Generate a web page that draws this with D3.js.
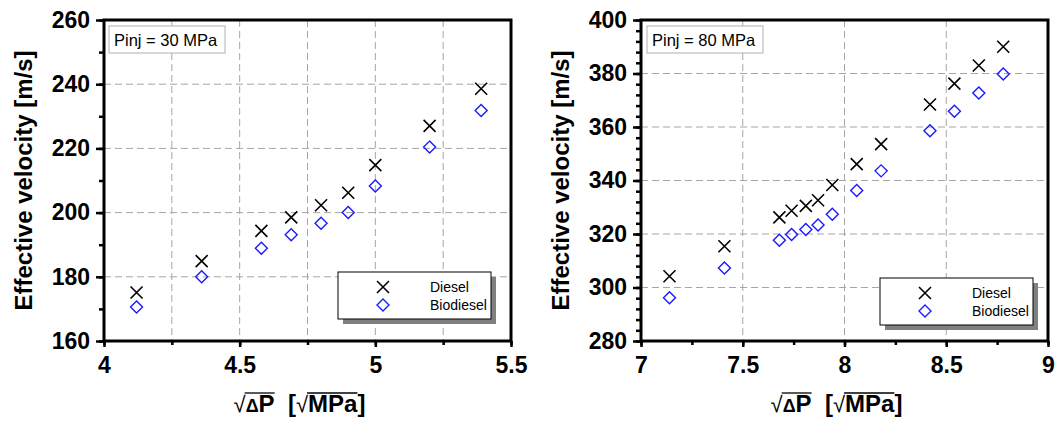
<!DOCTYPE html>
<html>
<head>
<meta charset="UTF-8">
<script src="https://d3js.org/d3.v7.min.js"></script>
<style>
  body { margin: 0; background: #fff; }
  text { font-family: "Liberation Sans", Arial, sans-serif; }
</style>
</head>
<body>
<svg id="chart" width="1061" height="421"></svg>
<script>
// data
const xLow = [4.12, 4.36, 4.58, 4.69, 4.80, 4.90, 5.00, 5.20, 5.39];
const dieselLow = [175.1, 184.9, 194.3, 198.5, 202.3, 206.2, 214.8, 227.0, 238.6];
const biodieselLow = [170.6, 180.0, 188.9, 193.1, 196.7, 200.0, 208.3, 220.4, 231.8];

const xHigh = [7.14, 7.41, 7.68, 7.74, 7.81, 7.87, 7.94, 8.06, 8.18, 8.42, 8.54, 8.66, 8.78];
const dieselHigh = [304.2, 315.4, 326.2, 328.7, 330.5, 332.6, 338.3, 346.1, 353.6, 368.4, 376.2, 383.0, 390.0];
const biodieselHigh = [296.2, 307.3, 317.7, 319.8, 321.7, 323.4, 327.4, 336.3, 343.6, 358.6, 365.9, 372.7, 379.8];

const xTicksLow = [4, 4.5, 5, 5.5];
const yTicksLow = [160, 180, 200, 220, 240, 260];
const xTicksHigh = [7, 7.5, 8, 8.5, 9];
const yTicksHigh = [280, 300, 320, 340, 360, 380, 400];

const seriesNames = ["Diesel", "Biodiesel"];
const labelLow = "Pinj = 30 MPa";
const labelHigh = "Pinj = 80 MPa";

const svg = d3.select("#chart");
const crossPath = "M-6,-6L6,6M-6,6L6,-6";
const diamondPath = "M0,-6L6,0L0,6L-6,0Z";

function panel(o) {
  const x = d3.scaleLinear().domain(d3.extent(o.xTicks)).range([o.left, o.right]);
  const y = d3.scaleLinear().domain(d3.extent(o.yTicks)).range([o.bottom, o.top]);
  const g = svg.append("g");

  // dashed grid
  const gx = d3.range(o.xTicks[0] + o.xGridStep, o.xTicks[o.xTicks.length - 1] - 1e-6, o.xGridStep);
  g.selectAll(".gx").data(gx).enter().append("line")
    .attr("x1", d => x(d)).attr("x2", d => x(d))
    .attr("y1", o.top).attr("y2", o.bottom)
    .attr("stroke", "#a6a6a6").attr("stroke-dasharray", "7,4");
  g.selectAll(".gy").data(o.yTicks.slice(1, -1)).enter().append("line")
    .attr("y1", d => y(d)).attr("y2", d => y(d))
    .attr("x1", o.left).attr("x2", o.right)
    .attr("stroke", "#a6a6a6").attr("stroke-dasharray", "7,4");

  // points
  g.selectAll(".bio").data(o.xs).enter().append("path")
    .attr("d", diamondPath)
    .attr("transform", (d, i) => `translate(${x(d)},${y(o.bio[i])})`)
    .attr("fill", "none").attr("stroke", "#1a1aff").attr("stroke-width", 1.4);
  g.selectAll(".dsl").data(o.xs).enter().append("path")
    .attr("d", crossPath)
    .attr("transform", (d, i) => `translate(${x(d)},${y(o.diesel[i])})`)
    .attr("fill", "none").attr("stroke", "#000").attr("stroke-width", 1.6);

  // axes: minor then major ticks
  const xMinor = d3.range(o.xTicks[0], o.xTicks[o.xTicks.length - 1] + 1e-6, 0.25);
  const yMinor = d3.range(o.yTicks[0], o.yTicks[o.yTicks.length - 1] + 1e-6, o.yMinorStep);
  const axMinX = g.append("g").attr("transform", `translate(0,${o.bottom})`)
    .call(d3.axisBottom(x).tickValues(xMinor).tickSize(4).tickFormat(""));
  const axMinY = g.append("g").attr("transform", `translate(${o.left},0)`)
    .call(d3.axisLeft(y).tickValues(yMinor).tickSize(5).tickFormat(""));
  const axX = g.append("g").attr("transform", `translate(0,${o.bottom})`)
    .call(d3.axisBottom(x).tickValues(o.xTicks).tickSize(6).tickPadding(10).tickFormat(d3.format("")));
  const axY = g.append("g").attr("transform", `translate(${o.left},0)`)
    .call(d3.axisLeft(y).tickValues(o.yTicks).tickSize(8).tickPadding(6).tickFormat(d3.format("")));
  [axMinX, axMinY, axX, axY].forEach(a => {
    a.select(".domain").remove();
    a.selectAll(".tick line").attr("stroke", "#000").attr("stroke-width", 2.5);
  });
  [axX, axY].forEach(a => a.selectAll(".tick text")
    .attr("fill", "#000").style("font-size", "23px").style("font-weight", "bold")
    .style("font-family", '"Liberation Sans", Arial, sans-serif'));

  // frame
  g.append("rect")
    .attr("x", o.left).attr("y", o.top)
    .attr("width", o.right - o.left).attr("height", o.bottom - o.top)
    .attr("fill", "none").attr("stroke", "#000").attr("stroke-width", 3);

  // y title
  g.append("text")
    .attr("transform", `translate(${o.left - 72},${(o.top + o.bottom) / 2}) rotate(-90)`)
    .attr("text-anchor", "middle")
    .style("font-size", "24px").style("font-weight", "bold")
    .text("Effective velocity [m/s]");

  // x title  √ΔP  [√MPa]
  const xt = g.append("text")
    .attr("x", (o.left + o.right) / 2 - 8).attr("y", 412)
    .attr("text-anchor", "middle")
    .style("font-size", "24px").style("font-weight", "bold");
  xt.append("tspan").style("font-weight", "normal").style("font-size", "22px").text("√");
  const dp = xt.append("tspan");
  dp.append("tspan").style("font-size", "18px").text("Δ");
  dp.append("tspan").text("P");
  xt.append("tspan").text("\u00a0 [");
  xt.append("tspan").style("font-weight", "normal").style("font-size", "22px").text("√");
  xt.append("tspan").text("MPa");
  xt.append("tspan").text("]");
  // vinculum over ΔP (chars 1-2) and MPa (chars 7-9)
  const node = xt.node();
  [[1, 2], [7, 9]].forEach(([a, b]) => {
    const s = node.getStartPositionOfChar(a);
    const e = node.getEndPositionOfChar(b);
    g.append("line")
      .attr("x1", s.x - 1).attr("x2", e.x)
      .attr("y1", 412 - 19).attr("y2", 412 - 19)
      .attr("stroke", "#000").attr("stroke-width", 1.3);
  });

  // pressure label
  g.append("rect")
    .attr("x", o.boxX).attr("y", 26).attr("width", 116).attr("height", 27)
    .attr("fill", "#fff").attr("stroke", "#b0b0b0").attr("stroke-width", 1);
  g.append("text")
    .attr("x", o.boxX + 5).attr("y", 46)
    .style("font-size", "16.5px")
    .text(o.label);

  // legend
  const lg = g.append("g").attr("transform", `translate(${o.legX},${o.legY})`);
  lg.append("rect").attr("x", 5).attr("y", 5).attr("width", 153).attr("height", 47).attr("fill", "#808080");
  lg.append("rect").attr("width", 153).attr("height", 47)
    .attr("fill", "#fff").attr("stroke", "#000").attr("stroke-width", 1);
  const marks = [crossPath, diamondPath];
  const strokes = ["#000", "#1a1aff"];
  seriesNames.forEach((n, i) => {
    lg.append("path").attr("d", marks[i])
      .attr("transform", `translate(45,${15 + i * 18})`)
      .attr("fill", "none").attr("stroke", strokes[i]).attr("stroke-width", i ? 1.4 : 1.6);
    lg.append("text").attr("x", 92).attr("y", 20 + i * 18)
      .style("font-size", "14px").text(n);
  });
}

panel({
  xs: xLow, diesel: dieselLow, bio: biodieselLow,
  xTicks: xTicksLow, yTicks: yTicksLow, xGridStep: 0.25, yMinorStep: 10,
  left: 104, right: 511, top: 20, bottom: 341,
  label: labelLow, boxX: 109, legX: 338, legY: 272
});
panel({
  xs: xHigh, diesel: dieselHigh, bio: biodieselHigh,
  xTicks: xTicksHigh, yTicks: yTicksHigh, xGridStep: 0.5, yMinorStep: 4,
  left: 641, right: 1048, top: 20, bottom: 341,
  label: labelHigh, boxX: 647, legX: 880, legY: 278
});
</script>
</body>
</html>
